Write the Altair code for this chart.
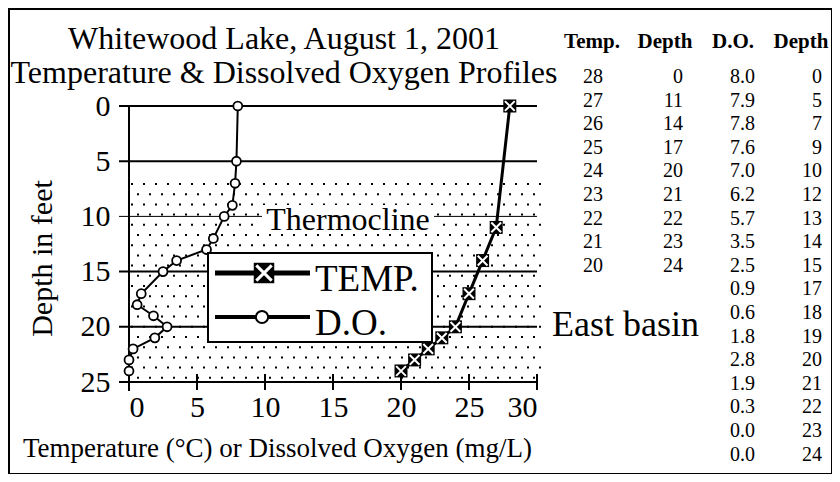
import altair as alt
import pandas as pd
import numpy as np

# ---------------- data ----------------
temp = [28, 27, 26, 25, 24, 23, 22, 21, 20]
temp_depth = [0, 11, 14, 17, 20, 21, 22, 23, 24]
do_vals = [8.0, 7.9, 7.8, 7.6, 7.0, 6.2, 5.7, 3.5, 2.5, 0.9, 0.6, 1.8, 2.8, 1.9, 0.3, 0.0, 0.0]
do_depth = [0, 5, 7, 9, 10, 12, 13, 14, 15, 17, 18, 19, 20, 21, 22, 23, 24]
x_ticks = [0, 5, 10, 15, 20, 25, 30]
y_ticks = [0, 5, 10, 15, 20, 25]
grid_thick = [0, 5, 15, 20]
grid_thin = [10]
title_lines = ["Whitewood Lake, August 1, 2001", "Temperature & Dissolved Oxygen Profiles"]
table_headers = ["Temp.", "Depth", "D.O.", "Depth"]
x_title = "Temperature (\u00b0C) or Dissolved Oxygen (mg/L)"
y_title = "Depth in feet"

# ---------------- layout ----------------
FONT = "Liberation Serif"
OX, OY = 129, 106          # page position of plot origin
W, H = 408, 276


def px(x):
    return x - OX


def py(y):
    return y - OY


xs = alt.Scale(domain=[0, 30], nice=False, zero=False)
ys = alt.Scale(domain=[0, 25], reverse=True, nice=False)

temp_df = pd.DataFrame({"value": temp, "depth": temp_depth})
do_df = pd.DataFrame({"value": do_vals, "depth": do_depth})
one = pd.DataFrame({"a": [0]})

# stipple texture (decoration)
dots = []
for r, yy in enumerate(np.arange(py(184), py(381), 10.2)):
    off = 0 if r % 2 == 0 else 6
    for xx in np.arange(3 + off, 412, 12):
        dots.append({"xp": float(xx), "yp": float(yy)})
dots_df = pd.DataFrame(dots)

dots_layer = alt.Chart(dots_df).mark_square(size=4, color="black", opacity=1).encode(
    x=alt.X("xp:Q", scale=None, axis=None), y=alt.Y("yp:Q", scale=None, axis=None))

grid_a = alt.Chart(pd.DataFrame({"depth": grid_thick})).mark_rule(color="black", strokeWidth=2).encode(
    y=alt.Y("depth:Q", scale=ys, axis=None), x=alt.value(-10), x2=alt.value(W))
grid_b = alt.Chart(pd.DataFrame({"depth": grid_thin})).mark_rule(color="black", strokeWidth=1).encode(
    y=alt.Y("depth:Q", scale=ys, axis=None), x=alt.value(-10), x2=alt.value(W))

thermo_bg = alt.Chart(one).mark_rect(color="white").encode(
    x=alt.value(px(262)), x2=alt.value(px(434)), y=alt.value(py(205)), y2=alt.value(py(233)))
thermo_txt = alt.Chart(one).mark_text(font=FONT, fontSize=32, align="center", baseline="alphabetic",
                                      color="black").encode(
    x=alt.value(px(348)), y=alt.value(py(230)), text=alt.value("Thermocline"))

yaxis_line = alt.Chart(one).mark_rule(color="black", strokeWidth=2).encode(
    x=alt.value(0), y=alt.value(0), y2=alt.value(H + 9))
bottom_line = alt.Chart(one).mark_rule(color="black", strokeWidth=2).encode(
    x=alt.value(-10), x2=alt.value(W + 1), y=alt.value(H))
xtick_layer = alt.Chart(pd.DataFrame({"t": x_ticks})).mark_rule(color="black", strokeWidth=2).encode(
    x=alt.X("t:Q", scale=xs, axis=None), y=alt.value(H - 8), y2=alt.value(H + 8))

x_axis = alt.Axis(values=x_ticks, ticks=False, domain=False, grid=False, labelFont=FONT, labelFontSize=30,
                  labelColor="black", labelPadding=10, labelOverlap=False, title=x_title, titleFont=FONT,
                  titleFontSize=27, titleFontWeight="normal", titleColor="black", titleX=px(277), titleY=66,
                  titleAlign="center", titleBaseline="middle")
y_axis = alt.Axis(values=y_ticks, ticks=False, domain=False, grid=False, labelFont=FONT, labelFontSize=30,
                  labelColor="black", labelPadding=19, labelOverlap=False, title=y_title, titleFont=FONT,
                  titleFontSize=30, titleFontWeight="normal", titleColor="black", titleX=-87, titleY=py(258),
                  titleAngle=270, titleAlign="center", titleBaseline="middle")

do_line = alt.Chart(do_df).mark_line(color="black", strokeWidth=2).encode(
    x=alt.X("value:Q", scale=xs, axis=x_axis), y=alt.Y("depth:Q", scale=ys, axis=y_axis),
    order=alt.Order("depth:Q"))
do_pts = alt.Chart(do_df).mark_point(shape="circle", size=80, filled=True, fill="white", stroke="black",
                                     strokeWidth=1.8, opacity=1).encode(
    x=alt.X("value:Q", scale=xs, axis=None), y=alt.Y("depth:Q", scale=ys, axis=None))

temp_line = alt.Chart(temp_df).mark_line(color="black", strokeWidth=3).encode(
    x=alt.X("value:Q", scale=xs, axis=None), y=alt.Y("depth:Q", scale=ys, axis=None),
    order=alt.Order("depth:Q"))
temp_sq = alt.Chart(temp_df).mark_point(shape="square", size=169, filled=True, color="black", opacity=1).encode(
    x=alt.X("value:Q", scale=xs, axis=None), y=alt.Y("depth:Q", scale=ys, axis=None))
XPATH = "M-0.75,-0.75L0.75,0.75M-0.75,0.75L0.75,-0.75"
temp_x = alt.Chart(temp_df).mark_point(shape=XPATH, size=169, filled=False, stroke="white", strokeWidth=2,
                                       opacity=1).encode(
    x=alt.X("value:Q", scale=xs, axis=None), y=alt.Y("depth:Q", scale=ys, axis=None))

# legend (drawn by hand)
leg_box = alt.Chart(one).mark_rect(fill="white", stroke="black", strokeWidth=2).encode(
    x=alt.value(px(208)), x2=alt.value(px(432)), y=alt.value(py(253)), y2=alt.value(py(342)))
leg_t_line = alt.Chart(one).mark_rule(color="black", strokeWidth=5).encode(
    x=alt.value(px(215)), x2=alt.value(px(310)), y=alt.value(py(273)))
leg_t_sq = alt.Chart(one).mark_point(shape="square", size=420, filled=True, color="black", opacity=1).encode(
    x=alt.value(px(264)), y=alt.value(py(273)))
leg_t_x = alt.Chart(one).mark_point(shape=XPATH, size=420, filled=False, stroke="white", strokeWidth=3,
                                    opacity=1).encode(x=alt.value(px(264)), y=alt.value(py(273)))
leg_d_line = alt.Chart(one).mark_rule(color="black", strokeWidth=4).encode(
    x=alt.value(px(215)), x2=alt.value(px(310)), y=alt.value(py(317)))
leg_d_pt = alt.Chart(one).mark_point(shape="circle", size=150, filled=True, fill="white", stroke="black",
                                     strokeWidth=2, opacity=1).encode(x=alt.value(px(262)), y=alt.value(py(317)))
leg_txt = alt.Chart(pd.DataFrame({"t": ["TEMP.", "D.O."], "yp": [py(291), py(335)]})).mark_text(
    font=FONT, fontSize=37, align="left", baseline="alphabetic", color="black").encode(
    x=alt.value(px(315)), y=alt.Y("yp:Q", scale=None, axis=None), text="t:N")

east_txt = alt.Chart(one).mark_text(font=FONT, fontSize=36, align="left", baseline="alphabetic",
                                    color="black").encode(
    x=alt.value(px(552)), y=alt.value(py(336)), text=alt.value("East basin"))

titles = alt.Chart(pd.DataFrame({"t": title_lines, "yp": [py(49), py(83)]})).mark_text(
    font=FONT, fontSize=32, align="center", baseline="alphabetic", color="black").encode(
    x=alt.value(px(284)), y=alt.Y("yp:Q", scale=None, axis=None), text="t:N")

# table
ROW0, ROWH = 83, 23.6   # baseline of first row, row step
hdr = pd.DataFrame({"t": table_headers, "xp": [px(592), px(665), px(733), px(801)], "yp": [py(48)] * 4})
rows = []
for i, (t, d) in enumerate(zip(temp, temp_depth)):
    rows.append({"t": str(t), "xp": px(603), "yp": py(ROW0 + ROWH * i)})
    rows.append({"t": str(d), "xp": px(683), "yp": py(ROW0 + ROWH * i)})
for i, (v, d) in enumerate(zip(do_vals, do_depth)):
    rows.append({"t": f"{v:.1f}", "xp": px(755), "yp": py(ROW0 + ROWH * i)})
    rows.append({"t": str(d), "xp": px(822), "yp": py(ROW0 + ROWH * i)})
rows_df = pd.DataFrame(rows)

hdr_layer = alt.Chart(hdr).mark_text(font=FONT, fontSize=21, fontWeight="bold", align="center",
                                     baseline="alphabetic", color="black").encode(
    x=alt.X("xp:Q", scale=None, axis=None), y=alt.Y("yp:Q", scale=None, axis=None), text="t:N")
rows_layer = alt.Chart(rows_df).mark_text(font=FONT, fontSize=20, align="right", baseline="alphabetic",
                                          color="black").encode(
    x=alt.X("xp:Q", scale=None, axis=None), y=alt.Y("yp:Q", scale=None, axis=None), text="t:N")

frame = alt.Chart(one).mark_rect(filled=False, stroke="black", strokeWidth=2).encode(
    x=alt.value(-120), x2=alt.value(703), y=alt.value(-97), y2=alt.value(368))

chart = alt.layer(
    dots_layer, grid_a, grid_b, thermo_bg, thermo_txt, yaxis_line, bottom_line, xtick_layer,
    do_line, do_pts, temp_line, temp_sq, temp_x,
    leg_box, leg_t_line, leg_t_sq, leg_t_x, leg_d_line, leg_d_pt, leg_txt,
    east_txt, titles, hdr_layer, rows_layer, frame
).resolve_scale(x="independent", y="independent").properties(
    width=W, height=H,
    autosize=alt.AutoSizeParams(type="none"),
    padding={"left": 121, "top": 98, "right": 295, "bottom": 92},
    background="white"
).configure_view(stroke=None)

chart.save("out.html", embed_options={"renderer": "svg", "actions": False})
